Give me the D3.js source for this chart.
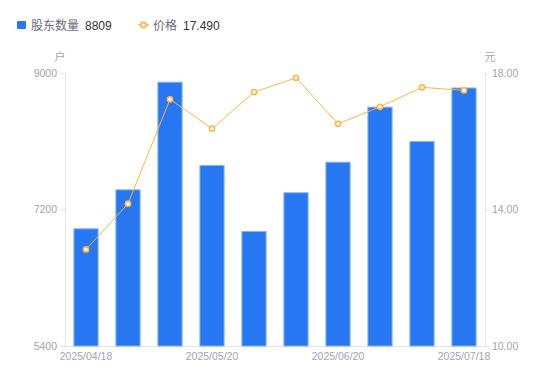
<!DOCTYPE html>
<html><head><meta charset="utf-8">
<script src="https://cdn.jsdelivr.net/npm/d3@7/dist/d3.min.js"></script>
<style>
html,body{margin:0;padding:0;background:#fff;}
text{font-family:"Liberation Sans","Noto Sans CJK SC",Arial,sans-serif;}
</style></head>
<body><svg id="c" width="550" height="381"></svg>
<script>
const categories = ["2025/04/18","2025/04/30","2025/05/10","2025/05/20","2025/05/31","2025/06/10","2025/06/20","2025/06/30","2025/07/10","2025/07/18"];
const holders = [6952, 7466, 8885, 7787, 6916, 7427, 7830, 8556, 8103, 8809];
const prices = [12.83, 14.17, 17.23, 16.37, 17.44, 17.86, 16.51, 17.01, 17.58, 17.49];
const leftTicks = [5400, 7200, 9000];
const rightTicks = [10, 14, 18];
const shownDates = ["2025/04/18","2025/05/20","2025/06/20","2025/07/18"];

const svg = d3.select("#c");
const L = 65, R = 485, T = 73, B = 346;
const x = d3.scaleBand().domain(categories).range([L, R]).paddingInner(0.4).paddingOuter(0.2);
const yL = d3.scaleLinear().domain([5400, 9000]).range([B, T]);
const yR = d3.scaleLinear().domain([10, 18]).range([B, T]);
const axisColor = "#e3e3e8", tickText = "#a3a3b3";

const gL = svg.append("g").attr("transform", `translate(${L},0)`)
  .call(d3.axisLeft(yL).tickValues(leftTicks).tickSize(5).tickPadding(3).tickFormat(d3.format("d")));
const gR = svg.append("g").attr("transform", `translate(${R},0)`)
  .call(d3.axisRight(yR).tickValues(rightTicks).tickSize(4).tickPadding(3).tickFormat(d3.format(".2f")));
const gB = svg.append("g").attr("transform", `translate(0,${B})`)
  .call(d3.axisBottom(x).tickValues(shownDates).tickSize(0).tickPadding(7));
gB.select(".domain").attr("d", `M${L-4},0.5H${R+4}`);
[gL, gR, gB].forEach(g => {
  g.select(".domain").attr("stroke", axisColor);
  g.selectAll(".tick line").attr("stroke", axisColor);
  g.selectAll(".tick text").attr("fill", tickText).attr("font-size", 10.5);
});
gL.selectAll(".tick text").attr("dy", "0.32em");
gR.selectAll(".tick text").attr("dy", "0.32em");

svg.append("text").attr("x", 60).attr("y", 61).attr("text-anchor", "middle").attr("font-size", 11).attr("fill", tickText).text("户");
svg.append("text").attr("x", 490).attr("y", 61).attr("text-anchor", "middle").attr("font-size", 11).attr("fill", tickText).text("元");

svg.append("g").selectAll("rect").data(holders).join("rect")
  .attr("x", (d, i) => x(categories[i]) + 0.5)
  .attr("y", d => yL(d) + 0.5)
  .attr("width", x.bandwidth() - 1)
  .attr("height", d => B - yL(d) - 0.5)
  .attr("fill", "#2777f2").attr("stroke", "#86b3f7").attr("stroke-width", 1);

const cx = i => x(categories[i]) + x.bandwidth() / 2;
const line = d3.line().x((d, i) => cx(i)).y(d => yR(d));
svg.append("path").datum(prices).attr("d", line).attr("fill", "none").attr("stroke", "#ffb53f").attr("stroke-width", 1);
svg.append("g").selectAll("circle").data(prices).join("circle")
  .attr("cx", (d, i) => cx(i)).attr("cy", d => yR(d)).attr("r", 2.6)
  .attr("fill", "#fff").attr("stroke", "#ffb53f").attr("stroke-width", 1.6);

const lg = svg.append("g");
lg.append("rect").attr("x", 17).attr("y", 21).attr("width", 9).attr("height", 8).attr("rx", 1).attr("fill", "#2777f2");
lg.append("text").attr("x", 31).attr("y", 29.5).attr("font-size", 12).attr("fill", "#6b6b78").text("股东数量");
lg.append("text").attr("x", 85).attr("y", 29.5).attr("font-size", 12).attr("fill", "#333").text(d3.format("d")(holders[holders.length-1]));
lg.append("line").attr("x1", 138).attr("x2", 149).attr("y1", 25).attr("y2", 25).attr("stroke", "#ffb53f").attr("stroke-width", 1.5);
lg.append("circle").attr("cx", 143.5).attr("cy", 25).attr("r", 2.6).attr("fill", "#fff").attr("stroke", "#ffb53f").attr("stroke-width", 1.6);
lg.append("text").attr("x", 153).attr("y", 29.5).attr("font-size", 12).attr("fill", "#6b6b78").text("价格");
lg.append("text").attr("x", 183).attr("y", 29.5).attr("font-size", 12).attr("fill", "#333").text(d3.format(".3f")(prices[prices.length-1]));
</script></body></html>
